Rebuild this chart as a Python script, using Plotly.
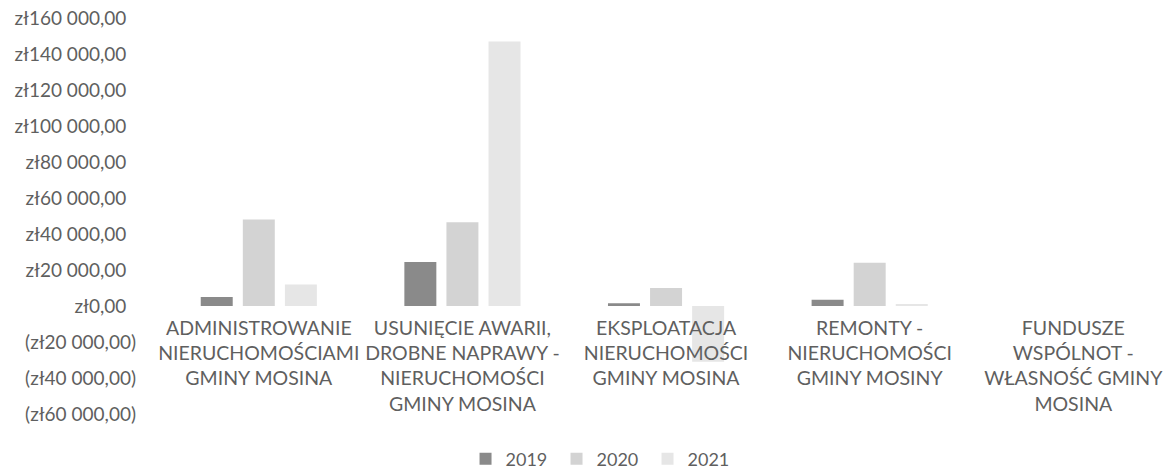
import plotly.graph_objects as go

# Categories (cost items) and yearly amounts in PLN
categories = [
    "ADMINISTROWANIE<br>NIERUCHOMOŚCIAMI<br>GMINY MOSINA",
    "USUNIĘCIE AWARII,<br>DROBNE NAPRAWY -<br>NIERUCHOMOŚCI<br>GMINY MOSINA",
    "EKSPLOATACJA<br>NIERUCHOMOŚCI<br>GMINY MOSINA",
    "REMONTY -<br>NIERUCHOMOŚCI<br>GMINY MOSINY",
    "FUNDUSZE<br>WSPÓLNOT -<br>WŁASNOŚĆ GMINY<br>MOSINA",
]
values_2019 = [5000, 24500, 1500, 3500, 0]
values_2020 = [48000, 46500, 10000, 24000, 0]
values_2021 = [12000, 147000, -31000, 1000, 0]

tick_values = [160000, 140000, 120000, 100000, 80000, 60000, 40000, 20000,
               0, -20000, -40000, -60000]
# accounting format: positives keep room for the closing parenthesis
tick_labels = ["zł160 000,00\u00a0\u00a0", "zł140 000,00\u00a0\u00a0",
               "zł120 000,00\u00a0\u00a0", "zł100 000,00\u00a0\u00a0",
               "zł80 000,00\u00a0\u00a0", "zł60 000,00\u00a0\u00a0",
               "zł40 000,00\u00a0\u00a0", "zł20 000,00\u00a0\u00a0",
               "zł0,00\u00a0\u00a0", "(zł20 000,00)", "(zł40 000,00)",
               "(zł60 000,00)"]

series = [
    ("2019", values_2019, "#8a8a8a"),
    ("2020", values_2020, "#d3d3d3"),
    ("2021", values_2021, "#e6e6e6"),
]

text_color = "#5f5f5f"
font_family = "Lato, 'Open Sans', sans-serif"

fig = go.Figure()
for name, vals, color in series:
    fig.add_trace(go.Bar(
        name=name,
        x=categories,
        y=vals,
        marker=dict(color=color, line=dict(width=0)),
    ))

# vertical scale: 36 px per 20 000 zł, plot area runs to the bottom edge
height, top_margin = 470, 18
px_per_unit = 36 / 20000
y_max = 160000
y_min = y_max - (height - top_margin) / px_per_unit

fig.update_layout(
    width=1169,
    height=height,
    margin=dict(l=157, r=0, t=top_margin, b=0, autoexpand=False),
    paper_bgcolor="white",
    plot_bgcolor="white",
    barmode="group",
    bargap=0.38,
    bargroupgap=0.24,
    font=dict(family=font_family, color=text_color, size=17),
    showlegend=True,
    legend=dict(
        orientation="h",
        xref="container", yref="container",
        x=0.515, xanchor="center",
        y=(470 - 459) / 470, yanchor="middle",
        font=dict(size=18, color=text_color),
        itemwidth=30,
        entrywidth=46,
        traceorder="normal",
        bgcolor="rgba(0,0,0,0)",
    ),
    xaxis=dict(
        type="category",
        range=[-0.5, 4.47],
        anchor="free",
        position=(0 - y_min) / (y_max - y_min),
        automargin=False,
        showline=False,
        showgrid=False,
        ticks="",
        ticklabelstandoff=8,
        tickfont=dict(size=19.5, color=text_color),
        tickangle=0,
    ),
    yaxis=dict(
        range=[y_min, y_max],
        automargin=False,
        tickvals=tick_values,
        ticktext=tick_labels,
        showgrid=False,
        zeroline=False,
        showline=False,
        ticks="",
        ticklabelstandoff=20,
        tickfont=dict(size=19, color=text_color),
    ),
)

fig.write_html("out.html")
